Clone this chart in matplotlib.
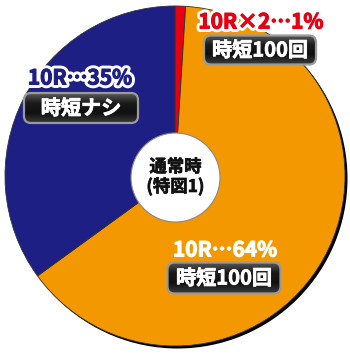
import numpy as np
import matplotlib
matplotlib.use("Agg")
from matplotlib import pyplot as plt
from matplotlib.patches import Circle, FancyBboxPatch
import matplotlib.patheffects as pe

plt.rcParams['font.family'] = ['Noto Sans CJK JP', 'DejaVu Sans']

# data
shares = [1, 64, 35]
rate_labels = ["10R×2…1%", "10R…64%", "10R…35%"]
jitan_labels = ["時短100回", "時短100回", "時短ナシ"]
colors = ["#e60012", "#f39800", "#1d1f85"]
text_colors = ["#e60012", "white", "#1d1f85"]
stroke_colors = ["white", "#f39800", "white"]
center_label = "通常時\n(特図1)"

H = 355
fig = plt.figure(figsize=(3.5, 3.55), dpi=100)
ax = fig.add_axes([0, 0, 1, 1])

cx, cy, r = 175, H - 176, 170


def bold(color, outline=None, width=4.5, lw=0.6):
    # the CJK font renders light here, so thicken it a little with a stroke
    effects = []
    if outline is not None:
        effects.append(pe.Stroke(linewidth=width, foreground=outline))
    effects.append(pe.Stroke(linewidth=lw, foreground=color))
    effects.append(pe.Normal())
    return effects


# drop shadow
ax.add_patch(Circle((cx + 2.5, cy - 2.5), r, facecolor="black", edgecolor="none", zorder=0))

ax.pie(shares, colors=colors, startangle=90, counterclock=False,
       center=(cx, cy), radius=r,
       wedgeprops=dict(edgecolor="#333333", linewidth=0.6))

ax.add_patch(Circle((cx + 0.5, H - 177.5), 44.5, facecolor="white",
                    edgecolor="#888888", linewidth=0.8, zorder=5))
ax.text(cx + 0.5, H - 177, center_label, ha="center", va="center",
        fontsize=12.5, fontweight="bold", color="#111111",
        linespacing=1.1, zorder=6, path_effects=bold("#111111", lw=0.45))

# label layout (pixel coords): text centre, box centre, box size
layout = [
    ((261, 22), (260, 50), (112, 29)),
    ((225, 250), (224, 278), (113, 31)),
    ((80, 78), (81, 108), (114, 30)),
]

grad = np.linspace(0, 1, 64).reshape(-1, 1)
cmap = matplotlib.colors.LinearSegmentedColormap.from_list(
    "g", ["#5a5a5a", "#1a1a1a", "#101010", "#3a3a3a"])
for i in range(len(shares)):
    (tx, ty), (bx, by), (bw, bh) = layout[i]
    ax.text(tx, H - ty, rate_labels[i], ha="center", va="center",
            fontsize=15, fontweight="bold", color=text_colors[i], zorder=8,
            path_effects=bold(text_colors[i], stroke_colors[i], 5, lw=0.8))
    box = FancyBboxPatch((bx - bw / 2, H - by - bh / 2), bw, bh,
                         boxstyle="round,pad=0,rounding_size=7",
                         facecolor="none", edgecolor="#9a9a9a",
                         linewidth=1.6, zorder=9)
    ax.add_patch(box)
    img = ax.imshow(grad, cmap=cmap,
                    extent=(bx - bw / 2, bx + bw / 2, H - by - bh / 2, H - by + bh / 2),
                    aspect="auto", zorder=8.5, origin="upper")
    img.set_clip_path(box)
    ax.text(bx, H - by, jitan_labels[i], ha="center", va="center",
            fontsize=14.5, fontweight="bold", color="white", zorder=10,
            path_effects=bold("white", lw=0.55))

ax.set_aspect("equal")
ax.set_xlim(0, 350)
ax.set_ylim(0, H)
ax.axis("off")

fig.savefig("out.png", dpi=100)
